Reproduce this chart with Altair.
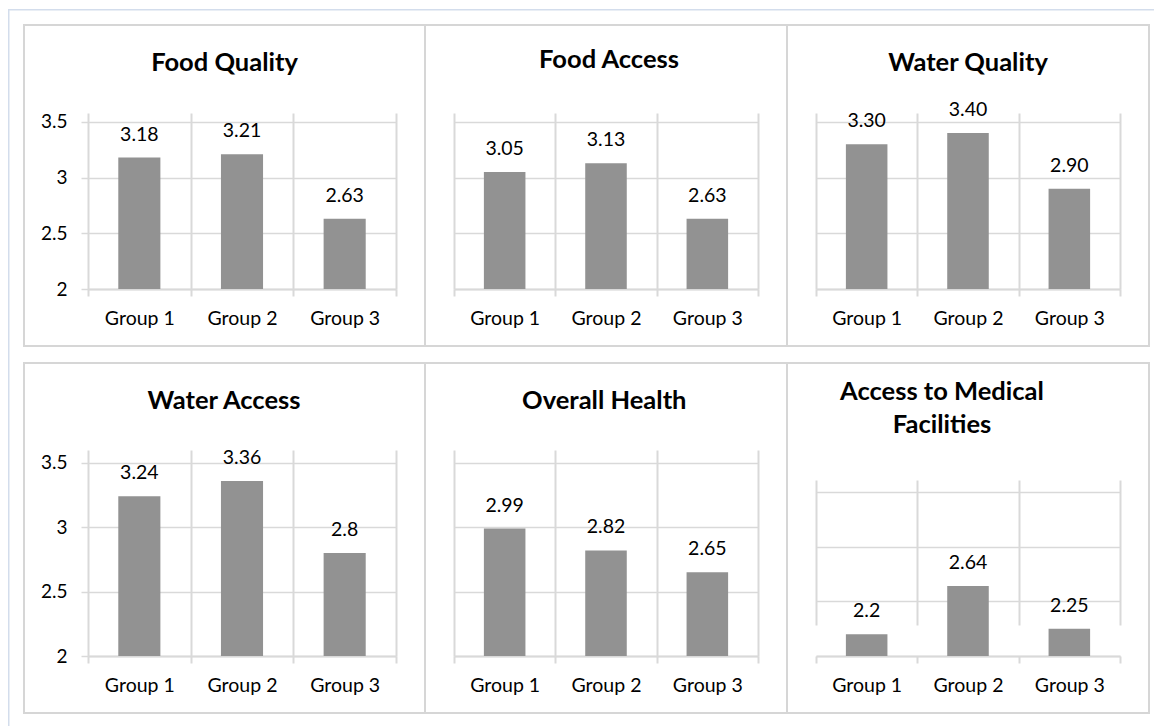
import altair as alt
import pandas as pd

# ---------------- data ----------------
groups = ["Group 1", "Group 2", "Group 3"]

food_quality = [3.18, 3.21, 2.63]
food_quality_labels = ["3.18", "3.21", "2.63"]

food_access = [3.05, 3.13, 2.63]
food_access_labels = ["3.05", "3.13", "2.63"]

water_quality = [3.30, 3.40, 2.90]
water_quality_labels = ["3.30", "3.40", "2.90"]

water_access = [3.24, 3.36, 2.80]
water_access_labels = ["3.24", "3.36", "2.8"]

overall_health = [2.99, 2.82, 2.65]
overall_health_labels = ["2.99", "2.82", "2.65"]

medical_access = [2.20, 2.64, 2.25]
medical_access_labels = ["2.2", "2.64", "2.25"]

y_ticks = [2, 2.5, 3, 3.5]

# ---------------- style ----------------
BAR = "#929292"
GRID = "#d9d9d9"
FRAME = "#d6d6d6"
OUTER = "#d3ddec"
FONT = "Lato"
TXT = "#000000"


def strip(x1, x2, y1, y2, color):
    return alt.Chart(alt.Data(values=[{}])).mark_rect(color=color, strokeWidth=0).encode(
        x=alt.value(x1), x2=alt.value(x2), y=alt.value(y1), y2=alt.value(y2)
    )


def panel(title, vals, labs, w, h, ymax, show_y, tdx, toff, frames, yrange=None):
    df = pd.DataFrame({"group": groups, "value": vals, "label": labs})
    base = alt.Chart(df)
    if yrange is not None:
        yscale = alt.Scale(domain=[2, ymax], nice=False, zero=False, range=yrange)
    else:
        yscale = alt.Scale(domain=[2, ymax], nice=False, zero=False)
    xaxis = alt.Axis(
        title=None, labelAngle=0, grid=True, tickBand="extent",
        gridColor=GRID, gridWidth=2, domainColor=GRID, domainWidth=2,
        tickColor=GRID, tickWidth=2, tickSize=7,
        labelFont=FONT, labelFontSize=19.5, labelColor=TXT,
        labelBaseline="alphabetic", labelPadding=28,
    )
    if show_y:
        yaxis = alt.Axis(
            title=None, values=y_ticks, format="~g", grid=True, gridColor=GRID,
            gridWidth=1.5, domain=False, ticks=True, tickColor=GRID, tickWidth=1.5,
            tickSize=7, labelFont=FONT, labelFontSize=19, labelColor=TXT,
            labelPadding=14,
        )
    else:
        yaxis = alt.Axis(
            title=None, values=y_ticks, grid=True, gridColor=GRID, gridWidth=1.5,
            domain=False, ticks=False, labels=False,
        )
    xenc = alt.X("group:N", sort=groups,
                 scale=alt.Scale(paddingInner=0, paddingOuter=0), axis=xaxis)
    yenc = alt.Y("value:Q", scale=yscale, axis=yaxis)
    bars = base.mark_bar(color=BAR, width=alt.RelativeBandSize(0.41)).encode(
        x=xenc, y=yenc, y2=alt.datum(2)
    )
    text = base.mark_text(baseline="alphabetic", dy=-17, font=FONT, fontSize=19.5,
                          color=TXT).encode(x=xenc, y=yenc, text="label:N")
    layers = [strip(*f) for f in frames] + [bars, text]
    return alt.layer(*layers).properties(
        width=w, height=h,
        title=alt.TitleParams(
            text=title, font=FONT, fontSize=25.5, fontWeight="bold", color=TXT,
            anchor="middle", baseline="alphabetic", offset=toff, dx=tdx,
            lineHeight=32.6,
        ),
    )


p1 = panel("Food Quality", food_quality, food_quality_labels, 308, 176, 3.58, True, -17.5, -87.7,
           [(-65, -63, -89, 234, FRAME), (-65, 338, -89, -87, FRAME), (-65, 338, 232, 234, FRAME),
            (336, 338, -89, 234, FRAME), (-80, 338, -104, -102.5, OUTER), (-80, -78.5, -104, 249, OUTER)])
p2 = panel("Food Access", food_access, food_access_labels, 304, 176, 3.58, False, 3, -84.3,
           [(-28, 334, -89, -87, FRAME), (-28, 334, 232, 234, FRAME), (332, 334, -89, 234, FRAME),
            (-28, 334, -104, -102.5, OUTER)])
p3 = panel("Water Quality", water_quality, water_quality_labels, 304, 176, 3.58, False, 0, -87.7,
           [(-28, 334, -89, -87, FRAME), (-28, 334, 232, 234, FRAME), (332, 334, -89, 234, FRAME),
            (-28, 338, -104, -102.5, OUTER)])
p4 = panel("Water Access", water_access, water_access_labels, 308, 206, 3.6, True, -18, -72.3,
           [(-65, -63, -88, 264, FRAME), (-65, 338, -88, -86, FRAME), (-65, 338, 262, 264, FRAME),
            (336, 338, -88, 264, FRAME), (-80, -78.5, -88, 276, OUTER)])
p5 = panel("Overall Health", overall_health, overall_health_labels, 304, 206, 3.6, False, -1.7, -72.3,
           [(-28, 334, -88, -86, FRAME), (-28, 334, 262, 264, FRAME), (332, 334, -88, 264, FRAME)])
# the medical-facilities panel has a two-line title, so its value area starts lower;
# a white band hides the part of the category grid above that area
p6 = panel(["Access to Medical", "Facilities"], medical_access, medical_access_labels, 304, 206, 3.6,
           False, -26, -96.3,
           [(-28, 334, -88, -86, FRAME), (-28, 334, 262, 264, FRAME), (332, 334, -88, 264, FRAME),
            (-3, 307, -1, 30.5, "#ffffff")],
           yrange=[206, 31])

row1 = alt.hconcat(p1, p2, p3, spacing=0)
row2 = alt.hconcat(p4, p5, p6, spacing=0)

chart = alt.vconcat(row1, row2, spacing=0).properties(
    padding={"left": 8, "top": 9, "right": 0, "bottom": 0},
    background="white",
).configure_view(stroke=None)

chart.save("out.html", embed_options={"renderer": "svg", "actions": False})
